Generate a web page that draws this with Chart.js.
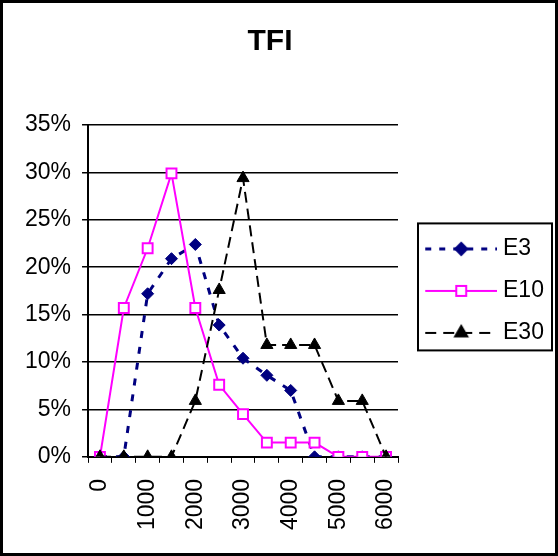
<!DOCTYPE html>
<html>
<head>
<meta charset="utf-8">
<script src="https://cdn.jsdelivr.net/npm/chart.js@4.4.1/dist/chart.umd.min.js"></script>
<style>
  html, body { margin: 0; padding: 0; background: #fff; }
  #wrap { width: 558px; height: 556px; }
</style>
</head>
<body>
<div id="wrap"><canvas id="tfiChart" width="558" height="556"></canvas></div>
<script>
const categories = ["0", "500", "1000", "1500", "2000", "2500", "3000",
                    "3500", "4000", "4500", "5000", "5500", "6000"];
const e3  = [0, 0, 17.2, 20.9, 22.4, 13.9, 10.4, 8.6, 7.0, 0, 0, 0, 0];
const e10 = [0, 15.7, 22.0, 29.9, 15.7, 7.6, 4.5, 1.5, 1.5, 1.5, 0, 0, 0];
const e30 = [0, 0, 0, 0, 5.9, 17.6, 29.4, 11.8, 11.8, 11.8, 5.9, 5.9, 0];
const yTicks = [0, 5, 10, 15, 20, 25, 30, 35];

const FONT = "'Liberation Sans', Arial, sans-serif";

// small picture of line + marker for each legend entry (blank margin on the left)
function legendIcon(color, dash, width, style, radius, fill) {
    const c = document.createElement("canvas");
    c.width = 86; c.height = 20;
    const ctx = c.getContext("2d");
    ctx.strokeStyle = color;
    ctx.lineWidth = width;
    ctx.setLineDash(dash);
    ctx.beginPath();
    ctx.moveTo(14, 10);
    ctx.lineTo(86, 10);
    ctx.stroke();
    ctx.setLineDash([]);
    ctx.fillStyle = fill;
    ctx.lineWidth = 2;
    Chart.helpers.drawPoint(ctx, { pointStyle: style, radius: radius, rotation: 0, borderWidth: 2 }, 50, 10);
    return c;
}

const icons = [
    legendIcon("#000080", [6, 8], 3, "rectRot", 6, "#000080"),
    legendIcon("#ff00ff", [], 2, "rect", 7, "#ffffff"),
    legendIcon("#000000", [11, 7], 2, "triangle", 7, "#000000")
];

const frame = {
    id: "frame",
    afterLayout(chart) {
        // the layout caps a side legend's width; give it room up to the frame
        const lg = chart.legend;
        lg.right = chart.width - 8;
        lg.width = lg.right - lg.left;
    },
    beforeDraw(chart) {
        const ctx = chart.ctx;
        ctx.save();
        ctx.fillStyle = "#fff";
        ctx.fillRect(0, 0, chart.width, chart.height);
        ctx.restore();
    },
    afterDraw(chart) {
        const ctx = chart.ctx;
        ctx.save();
        ctx.strokeStyle = "#000";
        ctx.lineWidth = 3;
        ctx.strokeRect(1.5, 1.5, chart.width - 3, chart.height - 3);
        // legend box
        const hb = chart.legend.legendHitBoxes;
        if (hb && hb.length) {
            const last = hb[hb.length - 1];
            const top = hb[0].top - 14;
            const bottom = last.top + last.height + 6;
            const left = hb[0].left + 1;
            const right = chart.width - 6;
            ctx.lineWidth = 2;
            ctx.strokeRect(left, top, right - left, bottom - top);
        }
        ctx.restore();
    }
};

new Chart(document.getElementById("tfiChart"), {
    type: "line",
    data: {
        labels: categories,
        datasets: [
            {
                label: "E3",
                data: e3,
                borderColor: "#000080",
                backgroundColor: "#000080",
                borderWidth: 3,
                borderDash: [7, 9],
                pointStyle: "rectRot",
                pointRadius: 6,
                pointBorderWidth: 1,
                order: 3
            },
            {
                label: "E10",
                data: e10,
                borderColor: "#ff00ff",
                backgroundColor: "#ffffff",
                borderWidth: 2,
                pointStyle: "rect",
                pointRadius: 7,
                pointBorderWidth: 2,
                order: 2
            },
            {
                label: "E30",
                data: e30,
                borderColor: "#000000",
                backgroundColor: "#000000",
                borderWidth: 2,
                borderDash: [11, 6],
                pointStyle: "triangle",
                pointRadius: 7,
                pointBorderWidth: 1,
                order: 1
            }
        ]
    },
    options: {
        responsive: false,
        animation: false,
        layout: { padding: { left: 14, right: 32, top: 0, bottom: 10 } },
        plugins: {
            title: {
                display: true,
                text: "TFI",
                color: "#000",
                font: { family: FONT, size: 30, weight: "bold" },
                padding: { top: 24, bottom: 65 }
            },
            legend: {
                position: "right",
                fullSize: false,
                labels: {
                    color: "#000",
                    font: { family: FONT, size: 23 },
                    usePointStyle: true,
                    pointStyleWidth: 74.5,
                    padding: 19,
                    generateLabels: chart => chart.data.datasets.map((ds, i) => ({
                        text: ds.label,
                        pointStyle: icons[i],
                        fillStyle: "transparent",
                        strokeStyle: "transparent",
                        lineWidth: 0,
                        hidden: false,
                        datasetIndex: i,
                        fontColor: "#000"
                    }))
                }
            },
            tooltip: { enabled: false }
        },
        scales: {
            x: {
                type: "category",
                offset: true,
                grid: {
                    offset: true,
                    drawOnChartArea: false,
                    color: "#000",
                    tickLength: 6
                },
                border: { color: "#000", width: 2 },
                ticks: {
                    autoSkip: false,
                    minRotation: 90,
                    maxRotation: 90,
                    color: "#000",
                    padding: 16,
                    font: { family: FONT, size: 23 },
                    callback: function (v, i) { return i % 2 === 0 ? this.getLabelForValue(v) : ""; }
                }
            },
            y: {
                min: yTicks[0],
                max: yTicks[yTicks.length - 1],
                afterBuildTicks: axis => { axis.ticks = yTicks.map(v => ({ value: v })); },
                grid: { color: "#000", lineWidth: 1.5, tickLength: 6 },
                border: { color: "#000", width: 2 },
                ticks: {
                    color: "#000",
                    padding: 11,
                    font: { family: FONT, size: 23 },
                    callback: v => v + "%"
                }
            }
        }
    },
    plugins: [frame]
});
</script>
</body>
</html>
